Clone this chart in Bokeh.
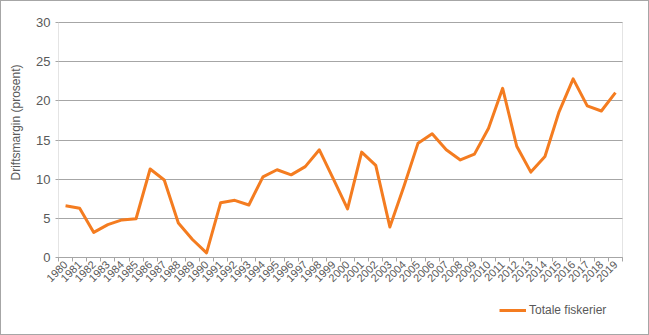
import math
from bokeh.plotting import figure
from bokeh.models import (FixedTicker, Range1d, Legend, LegendItem, LinearAxis,
                          BoxAnnotation, Grid, Label)
from bokeh.embed import file_html
from bokeh.resources import INLINE

years = [str(y) for y in range(1980, 2020)]
margin = [6.6, 6.3, 3.2, 4.2, 4.8, 4.95, 11.3, 9.9, 4.4, 2.3, 0.6,
          7.0, 7.3, 6.7, 10.3, 11.2, 10.55, 11.6, 13.75, 10.0, 6.2,
          13.45, 11.75, 3.9, 9.1, 14.6, 15.8, 13.75, 12.45, 13.2, 16.5,
          21.6, 14.2, 10.9, 12.9, 18.6, 22.8, 19.35, 18.7, 21.05]
y_ticks = [0, 5, 10, 15, 20, 25, 30]
y_min, y_max = 0, 30
series_name = "Totale fiskerier"
y_title = "Driftsmargin (prosent)"

FONT = "Liberation Sans"
TXT = "#595959"
GRID = "#a6a6a6"
ORANGE = "#f47c20"

# layout (pixels)
W, H = 649, 335
LEFT, RIGHT = 57, 621      # plot-area edges
TOP, AXIS_Y = 21, 256      # rows of the top gridline and the x axis
TITLE_X, TITLE_Y = 14, 121 # centre of the y-axis title
LEG_X, LEG_BOTTOM = 498, 319

n = len(years)
xs = [i + 0.5 for i in range(n)]

# the frame covers the whole canvas; axes are fixed at the data origin
px_x = (RIGHT - LEFT) / n
px_y = (AXIS_Y - TOP) / (y_max - y_min)
x_range = Range1d(-LEFT / px_x, n + (W - RIGHT) / px_x)
y_range = Range1d(y_min - (H - AXIS_Y) / px_y, y_max + TOP / px_y)

p = figure(width=W, height=H, output_backend="svg", toolbar_location=None,
           x_range=x_range, y_range=y_range,
           x_axis_location=None, y_axis_location=None,
           min_border=0)
p.styles = {"border": "1px solid #a6a6a6", "box-sizing": "border-box"}
p.outline_line_color = None
for g in p.grid:
    g.visible = False

grid = Grid(dimension=1, ticker=FixedTicker(ticks=y_ticks), cross_bounds=(0, n),
            grid_line_color=GRID, grid_line_width=1)
p.add_layout(grid)
p.add_layout(BoxAnnotation(left=0, right=n, bottom=y_min, top=y_max,
                           fill_alpha=0, line_color=GRID, line_width=1, level="underlay"))

r = p.line(xs, margin, line_color=ORANGE, line_width=3, line_join="round")

# x axis
xa = LinearAxis(fixed_location=y_min, bounds=(0, n))
xa.ticker = FixedTicker(ticks=xs, minor_ticks=list(range(n + 1)))
xa.major_label_overrides = {x: y for x, y in zip(xs, years)}
xa.major_label_orientation = math.pi / 4
xa.major_tick_out = 0
xa.major_tick_in = 0
xa.minor_tick_out = 4
xa.minor_tick_in = 0
xa.minor_tick_line_color = GRID
xa.axis_line_color = GRID
xa.major_label_text_font = FONT
xa.major_label_text_font_size = "11px"
xa.major_label_text_color = TXT
xa.major_label_standoff = 1
p.add_layout(xa, "below")

# y axis
ya = LinearAxis(fixed_location=0, bounds=(y_min, y_max))
ya.ticker = FixedTicker(ticks=y_ticks)
ya.axis_line_color = None
ya.major_tick_line_color = GRID
ya.major_tick_out = 3
ya.major_tick_in = 0
ya.minor_tick_line_color = None
ya.major_label_text_font = FONT
ya.major_label_text_font_size = "13px"
ya.major_label_text_color = TXT
ya.major_label_standoff = 5
p.add_layout(ya, "left")

p.add_layout(Label(x=TITLE_X, y=(AXIS_Y - TITLE_Y) / px_y, x_units="screen", y_units="data",
                   text=y_title, angle=math.pi / 2, text_align="center", text_baseline="middle",
                   text_font=FONT, text_font_size="12px", text_color=TXT))

legend = Legend(items=[LegendItem(label=series_name, renderers=[r])],
                location=(LEG_X, H - LEG_BOTTOM), padding=0, margin=0, spacing=0,
                glyph_width=27, glyph_height=20, label_height=20, label_standoff=3,
                border_line_color=None, background_fill_alpha=0,
                label_text_font=FONT, label_text_font_size="12px", label_text_color=TXT)
p.add_layout(legend)

open("out.html", "w").write(file_html(p, INLINE))
